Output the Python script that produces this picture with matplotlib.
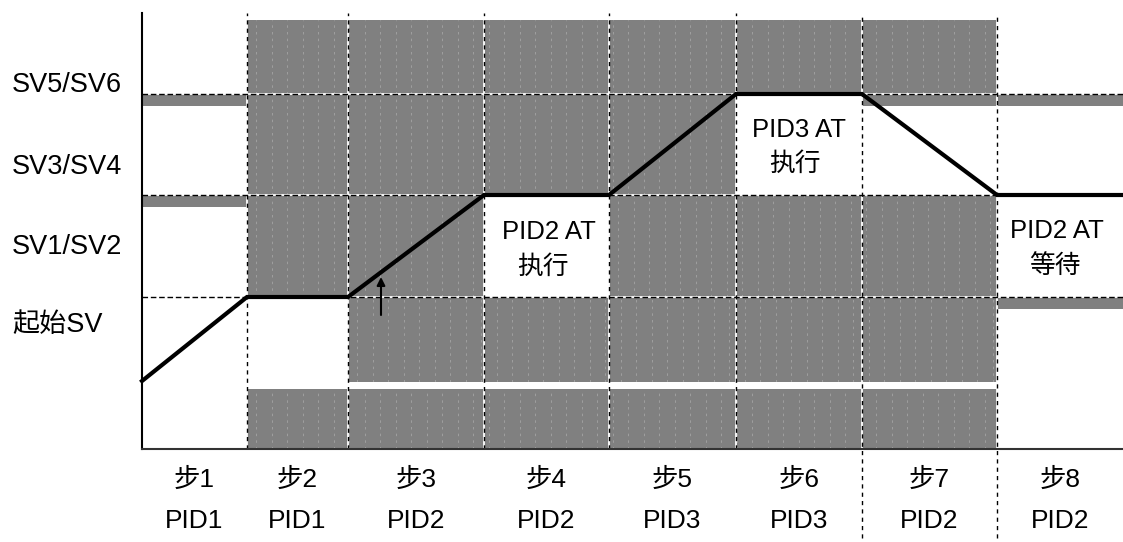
import matplotlib
matplotlib.use("Agg")
import matplotlib.pyplot as plt
from matplotlib.patches import Rectangle
import numpy as np

plt.rcParams['font.family'] = ['Liberation Sans', 'Noto Sans CJK SC', 'DejaVu Sans']

# Program steps (time axis) and set-point profile
step_edges = [0, 105, 206, 342, 467, 594, 720, 855, 981]
step_names = ['步1', '步2', '步3', '步4', '步5', '步6', '步7', '步8']
step_pids = ['PID1', 'PID1', 'PID2', 'PID2', 'PID3', 'PID3', 'PID2', 'PID2']
sp_profile = [68, 152, 152, 254, 254, 355, 355, 254, 254]
sv_levels = [152, 254, 355]
sv_labels = ['起始SV', 'SV1/SV2', 'SV3/SV4', 'SV5/SV6']

GRAY = '#808080'
STRIP = 12
TOP = 436

fig = plt.figure(figsize=(11.23, 5.42), dpi=100)
ax = fig.add_axes([142 / 1123, (542 - 449) / 542, 981 / 1123, TOP / 542])
ax.set_xlim(0, step_edges[-1])
ax.set_ylim(0, TOP)
ax.axis('off')

e = step_edges
lv0, lv1, lv2 = sv_levels
# shaded zones (x0, x1, y0, y1)
zones = [
    (e[1], e[7], lv2, 429),
    (e[0], e[1], lv2 - STRIP, lv2),
    (e[6], e[8], lv2 - STRIP, lv2),
    (e[1], e[5], lv1, lv2),
    (e[0], e[1], lv1 - STRIP, lv1),
    (e[1], e[3], lv0, lv1),
    (e[4], e[7], lv0, lv1),
    (e[7], e[8], lv0 - STRIP, lv0),
    (e[2], e[7], sp_profile[0] - 1, lv0),
    (e[1], e[7], 0, 60),
]
for x0, x1, y0, y1 in zones:
    r = Rectangle((x0, y0), x1 - x0, y1 - y0, facecolor=GRAY, edgecolor='none', zorder=1)
    ax.add_patch(r)
    if y1 - y0 > 20:
        for xx in np.arange(x0 + 9, x1, 15.5):
            ln, = ax.plot([xx, xx], [y0, y1], color='#a4a4a4', lw=0.6,
                          dashes=(3, 5), zorder=1.5)
            ln.set_clip_path(r)

# horizontal set-point guide lines
for lv in sv_levels:
    ax.plot([0, e[-1]], [lv, lv], color='white', lw=1.3, zorder=2, solid_capstyle='butt')
    ax.plot([0, e[-1]], [lv, lv], color='black', lw=1.0, dashes=(4, 2), zorder=2.1)

# step boundary lines
for i, x in enumerate(e[1:-1], start=1):
    y_low = -89 if i in (6, 7) else 0
    ax.plot([x, x], [0, TOP], color='white', lw=1.3, zorder=2, clip_on=False)
    ax.plot([x, x], [y_low, TOP], color='black', lw=1.0, dashes=(3, 3),
            zorder=2.1, clip_on=False)

# white boxes for AT annotations are the unshaded cells; draw the profile
ax.plot(step_edges, sp_profile, color='black', lw=3.0, zorder=4,
        solid_joinstyle='miter', clip_on=False)

# axis lines
ax.plot([0, 0], [0, TOP], color='black', lw=1.5, zorder=5, clip_on=False)
ax.plot([0, e[-1]], [0, 0], color='#333333', lw=1.5, zorder=5, clip_on=False)

# arrow marking the ramp start of step 3
ax.annotate('', xy=(239, 172), xytext=(239, 134),
            arrowprops=dict(arrowstyle='-|>', color='black', lw=1.5,
                            mutation_scale=12, shrinkA=0, shrinkB=0), zorder=6)

# left level labels
label_y = [124, 202, 282, 364]
for txt, y in zip(sv_labels, label_y):
    ax.text(-130, y, txt, fontsize=19.5, ha='left', va='center', clip_on=False)

# AT annotations
centers = [(step_edges[i] + step_edges[i + 1]) / 2 for i in range(8)]
ax.text(centers[3] + 2, 217, 'PID2 AT', fontsize=18.5, ha='center', va='center')
ax.text(centers[3] - 4, 182, '执行', fontsize=18.5, ha='center', va='center', fontweight='light')
ax.text(centers[5], 319, 'PID3 AT', fontsize=18.5, ha='center', va='center')
ax.text(centers[5] - 4, 285, '执行', fontsize=18.5, ha='center', va='center', fontweight='light')
ax.text(centers[7] - 3, 218, 'PID2 AT', fontsize=18.5, ha='center', va='center')
ax.text(centers[7] - 5, 183, '等待', fontsize=18.5, ha='center', va='center', fontweight='light')

# step / PID labels below the axis
for c, s, p in zip(centers, step_names, step_pids):
    ax.text(c, -31, s, fontsize=19, ha='center', va='center', clip_on=False)
    ax.text(c, -72, p, fontsize=19, ha='center', va='center', clip_on=False)

fig.savefig('out.png', dpi=100, facecolor='white')
